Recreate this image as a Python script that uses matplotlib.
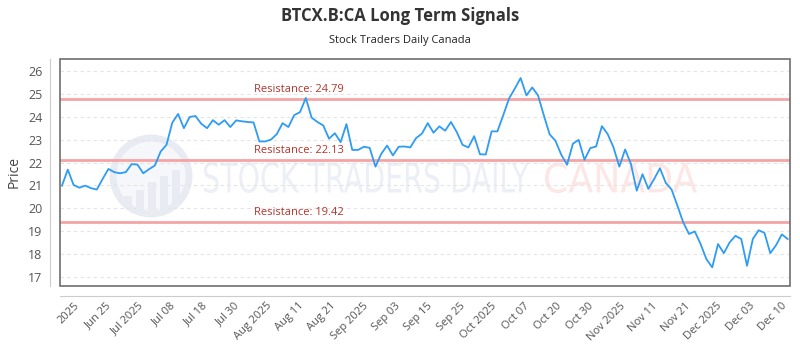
import numpy as np
import matplotlib.pyplot as plt
from matplotlib.patches import Rectangle, Circle, PathPatch
from matplotlib.textpath import TextPath
from matplotlib.font_manager import FontProperties
from matplotlib.transforms import Affine2D

plt.rcParams['font.family'] = ['Open Sans', 'DejaVu Sans']

# closing prices, one per trading day
price = [20.99, 21.69, 21.02, 20.90, 20.99, 20.88, 20.82, 21.28, 21.72, 21.58,
         21.53, 21.58, 21.93, 21.91, 21.53, 21.71, 21.87, 22.48, 22.77, 23.74,
         24.12, 23.50, 23.99, 24.03, 23.69, 23.50, 23.85, 23.65, 23.85, 23.55,
         23.84, 23.80, 23.77, 23.75, 22.92, 22.92,
         23.00, 23.24, 23.72, 23.55, 24.07, 24.20, 24.82, 23.96, 23.77, 23.62,
         23.04, 23.28, 22.89, 23.68, 22.55, 22.55, 22.69, 22.64, 21.82, 22.38,
         22.74, 22.31, 22.69, 22.70, 22.66, 23.07, 23.26, 23.72, 23.30, 23.58,
         23.39, 23.77, 23.33, 22.77, 22.66, 23.15, 22.36, 22.35, 23.36, 23.36,
         24.06, 24.79, 25.23, 25.69, 24.93,
         25.28, 24.93, 24.06, 23.23, 22.95, 22.34, 21.90, 22.82, 22.99, 22.12,
         22.63, 22.70, 23.59, 23.24, 22.66, 21.82, 22.57, 21.94, 20.77, 21.49,
         20.85, 21.28, 21.75, 21.11, 20.82, 20.12, 19.39, 18.88, 18.99, 18.44,
         17.78, 17.42, 18.44, 18.04, 18.51, 18.80, 18.66, 17.49, 18.66, 19.04,
         18.93, 18.04, 18.39, 18.86, 18.66]

tick_labels = ['2025', 'Jun 25', 'Jul 2025', 'Jul 08', 'Jul 18', 'Jul 30',
               'Aug 2025', 'Aug 11', 'Aug 21', 'Sep 2025', 'Sep 03', 'Sep 15',
               'Sep 25', 'Oct 2025', 'Oct 07', 'Oct 20', 'Oct 30', 'Nov 2025',
               'Nov 11', 'Nov 21', 'Dec 2025', 'Dec 03', 'Dec 10']

resistance = [24.79, 22.13, 19.42]

fig = plt.figure(figsize=(8, 3.5), dpi=100)
ax = fig.add_axes([0.075, 0.1837, 0.9125, 0.647])

# spines first: set_position resets the tick labels
for s in ['top', 'right']:
    ax.spines[s].set_visible(False)
for s in ['left', 'bottom']:
    ax.spines[s].set_position(('outward', 7.5))
    ax.spines[s].set_color('#cccccc')

# pixel coords (origin top-left) -> figure
pix = Affine2D().scale(1 / 800, -1 / 350).translate(0, 1) + fig.transFigure


def squeezed_text(s, x0, x1, ytop, ybot, color):
    tp = TextPath((0, 0), s, size=100, prop=FontProperties(family='DejaVu Sans'))
    bb = tp.get_extents()
    tr = (Affine2D().translate(-bb.x0, -bb.y0)
          .scale((x1 - x0) / bb.width, -(ybot - ytop) / bb.height)
          .translate(x0, ybot) + pix)
    ax.add_artist(PathPatch(tp, transform=tr, fc=color, lw=0, zorder=0.5))


# watermark
logo = Circle((151, 176), 38, transform=pix, fc='#f6f7fa', ec='#e8ebf2', lw=5, zorder=0.5)
ax.add_artist(logo)
for bx, btop in zip([124, 136, 148, 160, 172], [196, 190, 182, 176, 170]):
    bar = Rectangle((bx, btop), 8, 220 - btop, transform=pix, fc='#e8ebf2', lw=0, zorder=0.6)
    ax.add_artist(bar)
    bar.set_clip_path(logo)
squeezed_text('STOCK TRADERS DAILY', 204, 529, 162, 193, '#eceff5')
squeezed_text('CANADA', 545, 697, 163, 193, '#fde6e6')

x = np.arange(len(price))
ax.plot(x, price, color='#2e9cf4', lw=1.3, zorder=3)

for r in resistance:
    ax.axhline(r, color='#f5a3a3', lw=2, zorder=2)
    ax.annotate(f'Resistance: {r:.2f}', xy=(33, r), xytext=(0, 2.5),
                textcoords='offset points', color='#b2352b', fontsize=8, va='bottom')

ax.set_xlim(-0.34, 125.4)
ax.set_ylim(16.62, 26.51)
ax.tick_params(axis='x', length=0, pad=3, labelsize=8, labelcolor='#555555')
ax.tick_params(axis='y', length=0, pad=5, labelsize=9, labelcolor='#555555')
ax.set_yticks(range(17, 27))
ax.set_xticks(np.linspace(3.3, 125.2, len(tick_labels)))
ax.set_xticklabels(tick_labels, rotation=45, ha='right')

ax.yaxis.grid(True, color='#e4e4e4', ls=(0, (3, 3)), lw=0.8)
ax.set_axisbelow(True)

ax.add_artist(Rectangle((0, 0), 1, 1, transform=ax.transAxes, fill=False,
                        ec='#6e6e6e', lw=1.2, clip_on=False, zorder=4))

ax.set_ylabel('Price', fontsize=10, color='#444444')
ax.yaxis.set_label_coords(-0.053, 0.5)

fig.text(0.5, 1 - 16 / 350, 'BTCX.B:CA Long Term Signals', ha='center', va='center',
         fontsize=12, fontweight='bold', color='#333333')
fig.text(0.5, 1 - 40 / 350, 'Stock Traders Daily Canada', ha='center', va='center',
         fontsize=8, color='#222222')

fig.savefig('out.png', dpi=100)
